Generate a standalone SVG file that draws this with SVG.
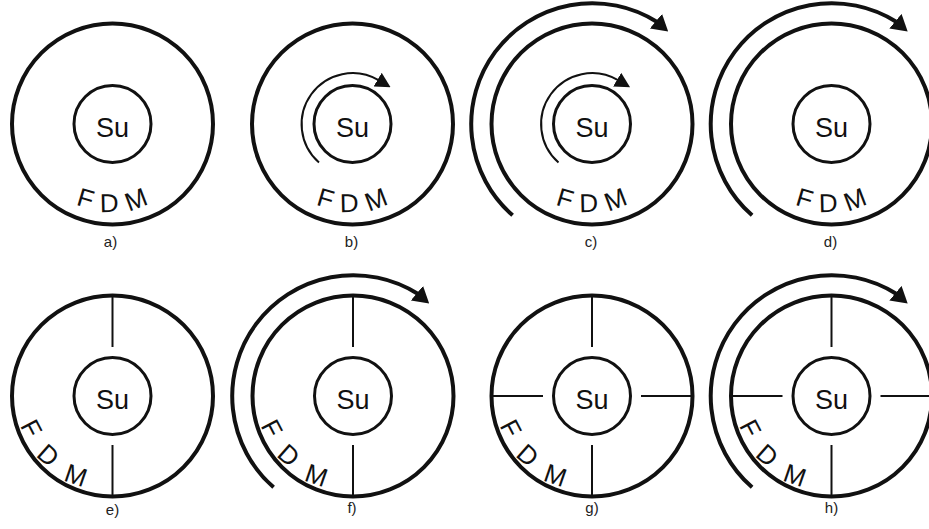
<svg xmlns="http://www.w3.org/2000/svg" width="929" height="529" viewBox="0 0 929 529">
  <style>
    .outer { fill: none; stroke: #111; stroke-width: 4; }
    .inner { fill: none; stroke: #111; stroke-width: 3; }
    .div { stroke: #111; stroke-width: 2; }
    .spin { fill: none; stroke: #111; stroke-width: 2; marker-end: url(#head-s); }
    .orbit { fill: none; stroke: #111; stroke-width: 4; marker-end: url(#head-l); }
    .su { font-family: "Liberation Sans", Arial, sans-serif; font-size: 27px; text-anchor: middle; fill: #111; }
    .fdm { font-family: "Liberation Sans", Arial, sans-serif; font-size: 26px; fill: #111; }
    .fdm-low { letter-spacing: 9.8px; }
    .fdm-side { letter-spacing: 17.5px; }
    .cap { font-family: "Liberation Sans", Arial, sans-serif; font-size: 15px; text-anchor: middle; fill: #222; }
  </style>
  <defs>
    <!-- small arrowhead for the self-rotation arc -->
    <marker id="head-s" markerUnits="userSpaceOnUse" markerWidth="15" markerHeight="16" viewBox="0 0 15 16" refX="1" refY="8" orient="auto">
      <path d="M0,0 L15,8 L0,16 z" fill="#111"/>
    </marker>
    <!-- large arrowhead for the orbit arc, tipped slightly inwards -->
    <marker id="head-l" markerUnits="userSpaceOnUse" markerWidth="16" markerHeight="19" viewBox="0 0 16 19" refX="1" refY="9.5" orient="40">
      <path d="M0,0 L16,9.5 L0,19 z" fill="#111"/>
    </marker>
    <!-- baselines for the curved FDM label, centred on the origin -->
    <path id="arc-low" d="M-88,0 A88,88 0 0 0 88,0"/>
    <path id="arc-side" d="M-96,0 A96,96 0 0 0 96,0"/>
  </defs>

  <!-- a) plain rings -->
  <g id="panel-a" transform="translate(112.5,124)">
    <circle class="outer" r="100.5"/>
    <circle class="inner" r="38.5"/>
    <text class="su" y="13">Su</text>
    <text class="fdm"><textPath class="fdm-low" href="#arc-low" startOffset="100">FDM</textPath></text>
    <text class="cap" x="-2" y="123">a)</text>
  </g>

  <!-- b) inner disc rotating -->
  <g id="panel-b" transform="translate(352.5,124)">
    <circle class="outer" r="100.5"/>
    <circle class="inner" r="38.5"/>
    <path class="spin" d="M-33.5,38.5 A51,51 0 0 1 26,-43.8"/>
    <text class="su" y="13">Su</text>
    <text class="fdm"><textPath class="fdm-low" href="#arc-low" startOffset="100">FDM</textPath></text>
    <text class="cap" x="-1" y="123">b)</text>
  </g>

  <!-- c) both rotating -->
  <g id="panel-c" transform="translate(592,124)">
    <path class="orbit" d="M-79.4,91.3 A121,121 0 0 1 64.7,-102.2"/>
    <circle class="outer" r="100.5"/>
    <circle class="inner" r="38.5"/>
    <path class="spin" d="M-33.5,38.5 A51,51 0 0 1 26,-43.8"/>
    <text class="su" y="13">Su</text>
    <text class="fdm"><textPath class="fdm-low" href="#arc-low" startOffset="100">FDM</textPath></text>
    <text class="cap" x="-1" y="123">c)</text>
  </g>

  <!-- d) outer ring rotating -->
  <g id="panel-d" transform="translate(831.5,124)">
    <path class="orbit" d="M-79.4,91.3 A121,121 0 0 1 64.7,-102.2"/>
    <circle class="outer" r="100.5"/>
    <circle class="inner" r="38.5"/>
    <text class="su" y="13">Su</text>
    <text class="fdm"><textPath class="fdm-low" href="#arc-low" startOffset="100">FDM</textPath></text>
    <text class="cap" x="-1" y="123">d)</text>
  </g>

  <!-- e) two sectors -->
  <g id="panel-e" transform="translate(112.5,396)">
    <circle class="outer" r="100.5"/>
    <circle class="inner" r="38.5"/>
    <line class="div" x1="0" y1="-100" x2="0" y2="-49"/>
    <line class="div" x1="0" y1="49" x2="0" y2="100"/>
    <text class="su" y="13">Su</text>
    <text class="fdm"><textPath class="fdm-side" href="#arc-side" startOffset="29.4">FDM</textPath></text>
    <text class="cap" x="0" y="119">e)</text>
  </g>

  <!-- f) two sectors, ring rotating -->
  <g id="panel-f" transform="translate(353,396)">
    <path class="orbit" d="M-79.4,91.3 A121,121 0 0 1 64.7,-102.2"/>
    <circle class="outer" r="100.5"/>
    <circle class="inner" r="38.5"/>
    <line class="div" x1="0" y1="-100" x2="0" y2="-49"/>
    <line class="div" x1="0" y1="49" x2="0" y2="100"/>
    <text class="su" y="13">Su</text>
    <text class="fdm"><textPath class="fdm-side" href="#arc-side" startOffset="29.4">FDM</textPath></text>
    <text class="cap" x="-1" y="117">f)</text>
  </g>

  <!-- g) four sectors -->
  <g id="panel-g" transform="translate(592,396)">
    <circle class="outer" r="100.5"/>
    <circle class="inner" r="38.5"/>
    <line class="div" x1="0" y1="-100" x2="0" y2="-49"/>
    <line class="div" x1="0" y1="49" x2="0" y2="100"/>
    <line class="div" x1="-100" y1="0" x2="-49" y2="0"/>
    <line class="div" x1="49" y1="0" x2="100" y2="0"/>
    <text class="su" y="13">Su</text>
    <text class="fdm"><textPath class="fdm-side" href="#arc-side" startOffset="29.4">FDM</textPath></text>
    <text class="cap" x="0" y="117">g)</text>
  </g>

  <!-- h) four sectors, ring rotating -->
  <g id="panel-h" transform="translate(831.5,396)">
    <path class="orbit" d="M-79.4,91.3 A121,121 0 0 1 64.7,-102.2"/>
    <circle class="outer" r="100.5"/>
    <circle class="inner" r="38.5"/>
    <line class="div" x1="0" y1="-100" x2="0" y2="-49"/>
    <line class="div" x1="0" y1="49" x2="0" y2="100"/>
    <line class="div" x1="-100" y1="0" x2="-49" y2="0"/>
    <line class="div" x1="49" y1="0" x2="100" y2="0"/>
    <text class="su" y="13">Su</text>
    <text class="fdm"><textPath class="fdm-side" href="#arc-side" startOffset="29.4">FDM</textPath></text>
    <text class="cap" x="0" y="117">h)</text>
  </g>
</svg>
